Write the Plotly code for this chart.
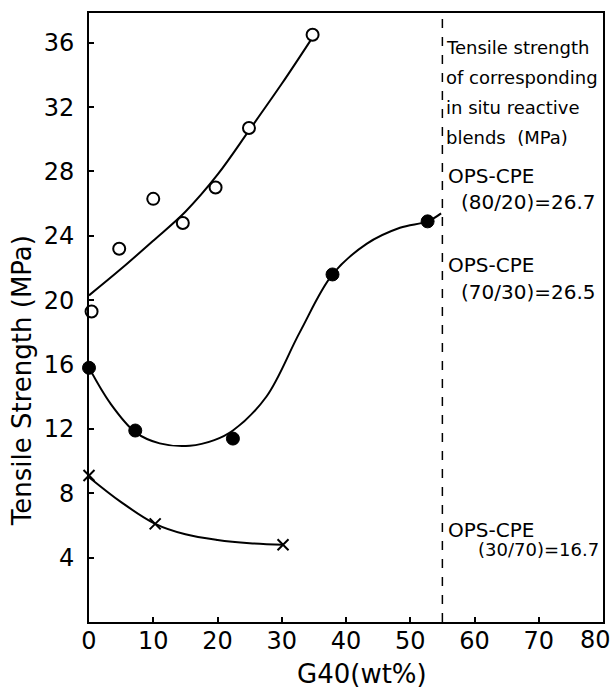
import plotly.graph_objects as go

# ---- data ----
open_x = [0.4, 4.7, 10.0, 14.6, 19.7, 24.9, 34.8]
open_y = [19.3, 23.2, 26.3, 24.8, 27.0, 30.7, 36.5]
open_curve_x = [0, 5, 10, 15, 20, 25, 30, 34.9]
open_curve_y = [20.3, 21.95, 23.7, 25.5, 27.8, 30.6, 33.45, 36.4]

filled_x = [0.0, 7.2, 22.4, 37.9, 52.7]
filled_y = [15.8, 11.9, 11.4, 21.6, 24.9]
filled_curve_x = [0, 3.3, 7.2, 11.0, 15.7, 19.5, 22.4, 27.6, 32.8, 37.9, 43.2, 48.4, 52.7, 54.8]
filled_curve_y = [15.8, 13.6, 11.8, 11.1, 10.95, 11.3, 11.9, 14.0, 18.0, 21.6, 23.5, 24.5, 24.9, 25.4]

cross_x = [0.0, 10.3, 30.2]
cross_y = [9.1, 6.1, 4.8]
cross_curve_x = [0, 5, 10.3, 15, 20, 25, 30.2]
cross_curve_y = [9.0, 7.45, 6.1, 5.45, 5.1, 4.9, 4.8]

x_ticks = [0, 10, 20, 30, 40, 50, 60, 70, 80]
x_tick_labels = ["0", "10", "20", "30", "40", "50", "60", "70", ""]  # "80" drawn flush at the edge below
last_x_label = "80"
y_ticks = [4, 8, 12, 16, 20, 24, 28, 32, 36]
divider_x = 55

# (text, x, y, font size)
side_notes = [
    ("Tensile strength", 55.25, 35.7, 18),
    ("of corresponding", 55.25, 33.85, 18),
    ("in situ reactive", 55.25, 32.0, 18),
    ("blends  (MPa)", 55.25, 30.1, 18),
    ("OPS-CPE", 55.6, 27.7, 20),
    ("(80/20)=26.7", 57.6, 26.1, 20),
    ("OPS-CPE", 55.6, 22.2, 20),
    ("(70/30)=26.5", 57.6, 20.5, 20),
    ("OPS-CPE", 55.6, 5.7, 20),
    ("(30/70)=16.7", 60.2, 4.5, 18),
]

FONT = "DejaVu Sans"
fig = go.Figure()

line_style = dict(color="black", width=2, shape="spline", smoothing=1.0)
fig.add_trace(go.Scatter(x=open_curve_x, y=open_curve_y, mode="lines", line=line_style,
                         hoverinfo="skip", cliponaxis=False))
fig.add_trace(go.Scatter(x=filled_curve_x, y=filled_curve_y, mode="lines", line=line_style,
                         hoverinfo="skip", cliponaxis=False))
fig.add_trace(go.Scatter(x=cross_curve_x, y=cross_curve_y, mode="lines", line=line_style,
                         hoverinfo="skip", cliponaxis=False))

fig.add_trace(go.Scatter(x=open_x, y=open_y, mode="markers", cliponaxis=False,
                         marker=dict(symbol="circle", size=12, color="white",
                                     line=dict(color="black", width=2))))
fig.add_trace(go.Scatter(x=filled_x, y=filled_y, mode="markers", cliponaxis=False,
                         marker=dict(symbol="circle", size=13, color="black",
                                     line=dict(color="black", width=1))))
fig.add_trace(go.Scatter(x=cross_x, y=cross_y, mode="markers", cliponaxis=False,
                         marker=dict(symbol="x-thin", size=11, color="black",
                                     line=dict(color="black", width=2))))

fig.add_shape(type="line", xref="x", yref="paper", x0=divider_x, x1=divider_x, y0=0, y1=1,
              line=dict(color="black", width=1.5, dash="dash"))

annotations = []
for text, x, y, fs in side_notes:
    annotations.append(dict(text=text, x=x, y=y, xref="x", yref="y", xanchor="left",
                            yanchor="middle", showarrow=False,
                            font=dict(family=FONT, size=fs, color="black")))
annotations.append(dict(text=last_x_label, x=x_ticks[-1], y=(622 - 640) / 609,
                        xref="x", yref="paper", xanchor="right", yanchor="middle",
                        xshift=10, showarrow=False,
                        font=dict(family=FONT, size=24, color="black")))
annotations.append(dict(text="Tensile Strength (MPa)", x=-0.130, y=(622 - 381) / 609,
                        xref="paper", yref="paper", textangle=-90, showarrow=False,
                        xanchor="center", yanchor="middle",
                        font=dict(family=FONT, size=26, color="black")))
annotations.append(dict(text="G40(wt%)", x=(362 - 89) / 514, y=(622 - 674) / 609,
                        xref="paper", yref="paper", showarrow=False,
                        xanchor="center", yanchor="middle",
                        font=dict(family=FONT, size=26, color="black")))

axis_common = dict(showgrid=False, zeroline=False, showline=True, linecolor="black",
                   linewidth=2, mirror=True, ticks="inside", ticklen=5, tickwidth=2,
                   tickcolor="black", ticklabeloverflow="allow", automargin=False,
                   tickfont=dict(family=FONT, size=24, color="black"))

fig.update_layout(
    width=616, height=688,
    margin=dict(l=89, r=13, t=13, b=66, autoexpand=False),
    paper_bgcolor="white", plot_bgcolor="white",
    showlegend=False,
    xaxis=dict(range=[0, 80], tickvals=x_ticks, ticktext=x_tick_labels,
               ticklabelstandoff=-4, **axis_common),
    yaxis=dict(range=[0, 37.85], tickvals=y_ticks, ticklabelstandoff=8, **axis_common),
    annotations=annotations,
)

fig.write_html("out.html")
